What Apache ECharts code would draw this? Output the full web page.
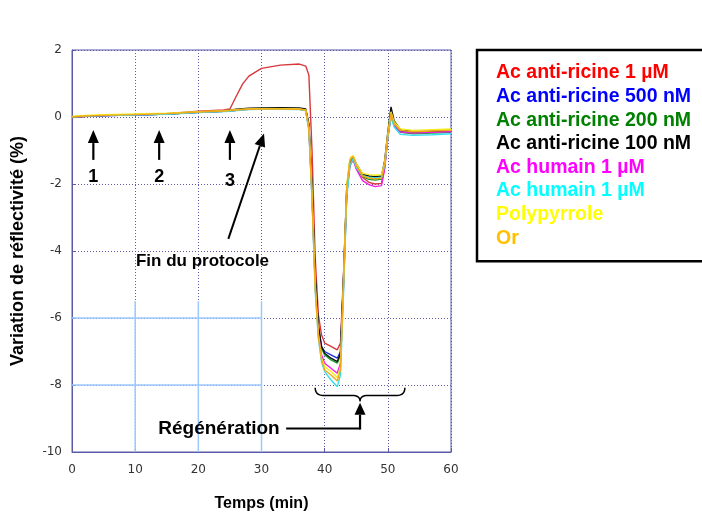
<!DOCTYPE html>
<html><head><meta charset="utf-8">
<script src="https://cdn.jsdelivr.net/npm/echarts@6/dist/echarts.min.js"></script>
<style>html,body{margin:0;padding:0;background:#fff}#c{width:702px;height:517px}</style>
</head><body><div id="c"></div>
<script>
// time (min)
const time = [0,2,5,10,15,20,24,25,26,27,28,30,33,36,37,37.5,38,38.5,39,39.5,40,41,42,42.5,43,43.5,44,44.5,45,46,47,48,49,49.5,50,50.5,51,52,54,57,60];
const xTicks = [0,10,20,30,40,50,60];
const yTicks = [-10,-8,-6,-4,-2,0,2];
const names = ['Ac anti-ricine 1 µM','Ac anti-ricine 500 nM','Ac anti-ricine 200 nM','Ac anti-ricine 100 nM','Ac humain 1 µM','Ac humain 1 µM ','Polypyrrole','Or'];
const antiRicine1uM = [-0.02,0.01,0.04,0.07,0.10,0.17,0.21,0.24,0.62,0.98,1.22,1.45,1.55,1.58,1.52,1.25,-1.00,-4.20,-5.90,-6.50,-6.75,-6.85,-6.95,-6.75,-4.60,-2.10,-1.40,-1.22,-1.45,-1.80,-1.95,-2.00,-1.98,-1.50,-0.60,0.05,-0.18,-0.40,-0.45,-0.43,-0.41];
const antiRicine500nM = [0.00,0.02,0.04,0.06,0.09,0.14,0.17,0.18,0.20,0.22,0.23,0.24,0.25,0.24,0.20,-0.30,-2.30,-4.90,-6.30,-6.85,-7.00,-7.10,-7.20,-7.00,-4.80,-2.20,-1.35,-1.20,-1.45,-1.72,-1.80,-1.83,-1.80,-1.40,-0.55,0.12,-0.22,-0.43,-0.48,-0.46,-0.44];
const antiRicine200nM = [0.01,0.03,0.05,0.07,0.09,0.14,0.17,0.18,0.21,0.23,0.24,0.25,0.25,0.24,0.21,-0.25,-2.20,-4.80,-6.30,-6.90,-7.10,-7.25,-7.35,-7.10,-4.90,-2.25,-1.40,-1.25,-1.50,-1.78,-1.86,-1.88,-1.85,-1.45,-0.58,0.08,-0.25,-0.46,-0.50,-0.48,-0.46];
const antiRicine100nM = [0.00,0.02,0.04,0.06,0.09,0.14,0.18,0.20,0.23,0.25,0.26,0.27,0.28,0.27,0.24,-0.20,-2.10,-4.70,-6.20,-6.85,-7.05,-7.20,-7.30,-7.05,-4.70,-2.10,-1.30,-1.18,-1.40,-1.70,-1.76,-1.78,-1.76,-1.30,-0.45,0.30,-0.12,-0.38,-0.44,-0.43,-0.42];
const humainA = [0.00,0.02,0.04,0.06,0.09,0.14,0.17,0.18,0.20,0.22,0.23,0.24,0.24,0.23,0.20,-0.35,-2.40,-5.00,-6.45,-7.10,-7.35,-7.50,-7.65,-7.35,-5.00,-2.30,-1.45,-1.28,-1.55,-1.90,-2.02,-2.08,-2.05,-1.55,-0.62,0.02,-0.25,-0.45,-0.48,-0.46,-0.44];
const humainB = [0.00,0.02,0.04,0.06,0.08,0.13,0.16,0.17,0.19,0.21,0.22,0.23,0.23,0.22,0.19,-0.40,-2.50,-5.20,-6.60,-7.30,-7.60,-7.85,-8.05,-7.70,-5.20,-2.40,-1.45,-1.25,-1.50,-1.75,-1.80,-1.82,-1.80,-1.45,-0.62,0.00,-0.30,-0.52,-0.55,-0.53,-0.50];
const polypyrrole = [0.02,0.05,0.07,0.09,0.11,0.16,0.19,0.20,0.22,0.23,0.24,0.25,0.25,0.24,0.21,-0.30,-2.30,-5.00,-6.50,-7.20,-7.45,-7.60,-7.78,-7.45,-4.80,-2.00,-1.22,-1.15,-1.40,-1.68,-1.72,-1.74,-1.72,-1.35,-0.50,0.15,-0.15,-0.36,-0.40,-0.38,-0.36];
const or = [0.00,0.03,0.05,0.07,0.10,0.15,0.18,0.19,0.21,0.22,0.23,0.24,0.24,0.23,0.20,-0.35,-2.40,-5.10,-6.55,-7.25,-7.55,-7.70,-7.88,-7.55,-4.90,-2.10,-1.30,-1.18,-1.45,-1.76,-1.82,-1.85,-1.82,-1.40,-0.55,0.12,-0.20,-0.40,-0.44,-0.42,-0.40];

const seriesVals = [antiRicine1uM, antiRicine500nM, antiRicine200nM, antiRicine100nM, humainA, humainB, polypyrrole, or];
const lineColors = ['#d8383c','#2030e0','#18a030','#111111','#f020e0','#30e0f0','#f4ec20','#f0a818'];
const legendColors = ['#ff0000','#0000ff','#008000','#000000','#ff00ff','#00ffff','#ffff00','#ffc000'];

const chart = echarts.init(document.getElementById('c'), null, {renderer:'canvas'});
const axisColor = '#5a5aa6';
const series = names.map((n,i)=>({
  type:'line', name:n, showSymbol:false, animation:false,
  data: time.map((t,k)=>[t, seriesVals[i][k]]),
  lineStyle:{width:1.4, color:lineColors[i]}, itemStyle:{color:lineColors[i]}, z: 3
}));
chart.setOption({
  animation:false,
  backgroundColor:'#fff',
  grid:{left:72, right:251, top:50, bottom:64, show:true, borderColor:axisColor, borderWidth:1},
  legend:{
    orient:'vertical', left:477, top:50, icon:'none', itemWidth:0, itemHeight:18, itemGap:3.6,
    padding:[13,40,13,14], borderColor:'#000', borderWidth:2.5, backgroundColor:'#fff', selectedMode:false,
    textStyle:{fontFamily:'Liberation Sans', fontWeight:'bold', fontSize:19.5},
    data: names.map((n,i)=>({name:n, textStyle:{color:legendColors[i]}}))
  },
  xAxis:{type:'value', min:xTicks[0], max:xTicks[xTicks.length-1], interval:10,
    axisLine:{onZero:false, lineStyle:{color:axisColor}}, axisTick:{inside:true, length:4, lineStyle:{color:axisColor}},
    axisLabel:{fontFamily:'DejaVu Sans', fontSize:12, color:'#333', margin:12},
    splitLine:{show:true, lineStyle:{color:axisColor, type:[1,2], width:1}},
    name:'Temps (min)', nameLocation:'middle', nameGap:44,
    nameTextStyle:{fontFamily:'Liberation Sans', fontWeight:'bold', fontSize:16, color:'#000'}},
  yAxis:{type:'value', min:yTicks[0], max:yTicks[yTicks.length-1], interval:2,
    axisLine:{show:true, onZero:false, lineStyle:{color:axisColor}}, axisTick:{show:true, inside:true, length:4, lineStyle:{color:axisColor}},
    axisLabel:{fontFamily:'DejaVu Sans', fontSize:12, color:'#333', margin:10},
    splitLine:{show:true, lineStyle:{color:axisColor, type:[1,2], width:1}},
    name:'Variation de réflectivité (%)', nameLocation:'middle', nameGap:45, nameRotate:90,
    nameTextStyle:{fontFamily:'Liberation Sans', fontWeight:'bold', fontSize:18, color:'#000'}},
  series: series
});

function px(x,y){ return chart.convertToPixel({gridIndex:0},[x,y]); }
function arrow(p1,p2,w,hl,hw){
  const dx=p2[0]-p1[0], dy=p2[1]-p1[1], L=Math.hypot(dx,dy), ux=dx/L, uy=dy/L;
  const bx=p2[0]-ux*hl, by=p2[1]-uy*hl, nx=-uy, ny=ux;
  return [
    {type:'line', z:10, shape:{x1:p1[0],y1:p1[1],x2:bx,y2:by}, style:{stroke:'#000', lineWidth:w}},
    {type:'polygon', z:10, shape:{points:[[p2[0],p2[1]],[bx+nx*hw/2,by+ny*hw/2],[bx-nx*hw/2,by-ny*hw/2]]}, style:{fill:'#000'}}
  ];
}
function label(x,y,t,size){
  const p=px(x,y);
  return {type:'text', z:10, x:p[0], y:p[1], style:{text:t, fill:'#000', fontFamily:'Liberation Sans', fontWeight:'bold', fontSize:size, align:'center', verticalAlign:'middle'}};
}
function quad(p0,p1,p2,out){
  for(let s=1;s<=8;s++){ const t=s/8, a=(1-t)*(1-t), b=2*(1-t)*t, c=t*t;
    out.push([a*p0[0]+b*p1[0]+c*p2[0], a*p0[1]+b*p1[1]+c*p2[1]]); }
}
const g = [];
// light-blue gridline segments in the lower-left part
[10,20,30].forEach(x=>{ const a=px(x,-10), b=px(x,-5.5); g.push({type:'line', z:1, shape:{x1:a[0],y1:a[1],x2:b[0],y2:b[1]}, style:{stroke:'#9cc8ff', lineWidth:1.5}}); });
[-6,-8].forEach(y=>{ const a=px(0,y), b=px(30,y); g.push({type:'line', z:1, shape:{x1:a[0],y1:a[1],x2:b[0],y2:b[1]}, style:{stroke:'#9cc8ff', lineWidth:1.5}}); });
// numbered arrows
const arrowX = [3.38, 13.8, 25.0];
const arrowLabels = ['1','2','3'];
const labelY = [-1.80, -1.80, -1.92];
arrowX.forEach((x,i)=>{
  g.push(...arrow(px(x,-1.28), px(x,-0.39), 2.2, 13, 11));
  g.push(label(x, labelY[i], arrowLabels[i], 18));
});
// Fin du protocole
g.push(...arrow(px(24.75,-3.64), px(30.4,-0.49), 2, 13, 11));
g.push(label(20.66, -4.31, 'Fin du protocole', 17));
// Régénération
g.push(label(23.27, -9.30, 'Régénération', 19));
{
  const a=px(33.9,-9.30), b=px(45.6,-9.30);
  g.push({type:'line', z:10, shape:{x1:a[0],y1:a[1],x2:b[0],y2:b[1]}, style:{stroke:'#000', lineWidth:2}});
  g.push(...arrow([b[0], b[1]+1], px(45.6,-8.53), 2.2, 12, 11));
  const L=px(38.5,-8.08), R=px(52.7,-8.08), M=px(45.6,-8.31);
  const xl=L[0], xr=R[0], xm=M[0], yt=L[1], ym=M[1], yp=ym+6, r=8;
  const pts=[[xl,yt]];
  quad([xl,yt],[xl,ym],[xl+r,ym],pts);
  pts.push([xm-r,ym]);
  quad([xm-r,ym],[xm,ym],[xm,yp],pts);
  quad([xm,yp],[xm,ym],[xm+r,ym],pts);
  pts.push([xr-r,ym]);
  quad([xr-r,ym],[xr,ym],[xr,yt],pts);
  g.push({type:'polyline', z:10, shape:{points:pts}, style:{stroke:'#000', lineWidth:1.5, fill:null}});
}
chart.setOption({graphic:g});
</script>
</body></html>
